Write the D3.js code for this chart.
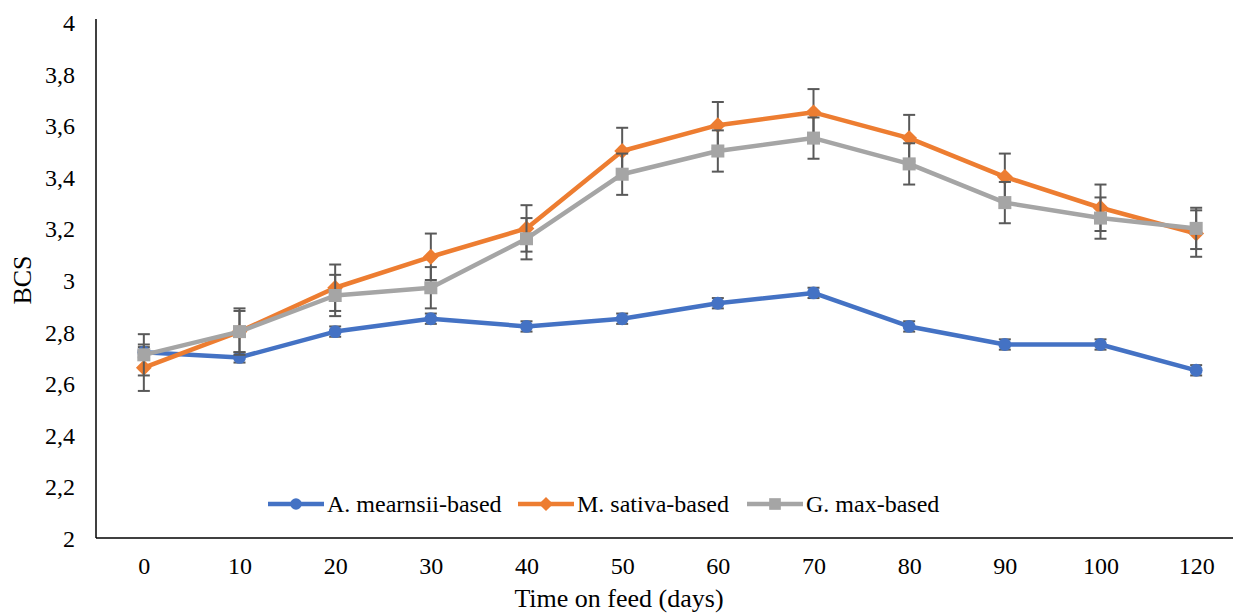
<!DOCTYPE html>
<html>
<head>
<meta charset="utf-8">
<title>BCS over time on feed</title>
<script src="https://d3js.org/d3.v7.min.js"></script>
<style>
  body { margin: 0; background: #fff; }
  text { font-family: "Liberation Serif", "Times New Roman", serif; fill: #000; }
</style>
</head>
<body>
<script>
// data
var days = ["0", "10", "20", "30", "40", "50", "60", "70", "80", "90", "100", "120"];
var mearnsii = [2.72, 2.70, 2.80, 2.85, 2.82, 2.85, 2.91, 2.95, 2.82, 2.75, 2.75, 2.65];
var mearnsiiErr = [0.02, 0.02, 0.02, 0.02, 0.02, 0.02, 0.02, 0.02, 0.02, 0.02, 0.02, 0.02];
var sativa = [2.66, 2.80, 2.97, 3.09, 3.20, 3.50, 3.60, 3.65, 3.55, 3.40, 3.28, 3.18];
var sativaErr = [0.09, 0.09, 0.09, 0.09, 0.09, 0.09, 0.09, 0.09, 0.09, 0.09, 0.09, 0.09];
var gmax = [2.71, 2.80, 2.94, 2.97, 3.16, 3.41, 3.50, 3.55, 3.45, 3.30, 3.24, 3.20];
var gmaxErr = [0.08, 0.08, 0.08, 0.08, 0.08, 0.08, 0.08, 0.08, 0.08, 0.08, 0.08, 0.08];
var yTicks = [2, 2.2, 2.4, 2.6, 2.8, 3, 3.2, 3.4, 3.6, 3.8, 4];

// rot = rotation of the marker, used to turn a square into an even diamond
var series = [
  {name: "A. mearnsii-based", values: mearnsii, err: mearnsiiErr, color: "#4472C4", symbol: d3.symbolCircle, size: 130, rot: 0},
  {name: "M. sativa-based", values: sativa, err: sativaErr, color: "#ED7D31", symbol: d3.symbolSquare, size: 125, rot: 45},
  {name: "G. max-based", values: gmax, err: gmaxErr, color: "#A5A5A5", symbol: d3.symbolSquare, size: 170, rot: 0}
];

var W = 1233, H = 614;
var plotL = 96, plotR = 1244, plotT = 22, plotB = 538;

var svg = d3.select("body").append("svg").attr("width", W).attr("height", H);

var x = d3.scalePoint().domain(days).range([plotL, plotR]).padding(0.5);
var y = d3.scaleLinear().domain([2, 4]).range([plotB, plotT]);

// axes
var yAxis = d3.axisLeft(y).tickValues(yTicks).tickSize(0).tickPadding(21)
  .tickFormat(function(d) { return d3.format(".1~f")(d).replace(".", ","); });
var gy = svg.append("g").attr("transform", "translate(" + plotL + ",0)").call(yAxis);
gy.select(".domain").remove();
gy.selectAll("text").style("font-size", "24px").attr("dy", "0.35em");

var xAxis = d3.axisBottom(x).tickSize(0);
var gx = svg.append("g").attr("transform", "translate(0," + plotB + ")").call(xAxis);
gx.select(".domain").remove();
gx.selectAll("text").style("font-size", "24px").attr("y", 28).attr("dy", "0.35em");

svg.append("line").attr("x1", plotL).attr("x2", plotL).attr("y1", plotT - 3).attr("y2", plotB)
  .attr("stroke", "#000").attr("stroke-width", 1.5);
svg.append("line").attr("x1", plotL).attr("x2", W).attr("y1", plotB).attr("y2", plotB)
  .attr("stroke", "#000").attr("stroke-width", 1.5);

// axis titles
svg.append("text").attr("x", 619).attr("y", 607).attr("text-anchor", "middle")
  .style("font-size", "26px").text("Time on feed (days)");
svg.append("text").attr("transform", "translate(31," + ((plotT + plotB) / 2) + ") rotate(-90)")
  .attr("text-anchor", "middle").style("font-size", "26px").text("BCS");

var line = d3.line().x(function(d, i) { return x(days[i]); }).y(function(d) { return y(d); });

series.forEach(function(s) {
  var g = svg.append("g");
  g.append("path").datum(s.values).attr("d", line)
    .attr("fill", "none").attr("stroke", s.color).attr("stroke-width", 4.5)
    .attr("stroke-linejoin", "round");

  var eb = g.selectAll(".eb").data(s.values).enter().append("g");
  eb.append("line")
    .attr("x1", function(d, i) { return x(days[i]); })
    .attr("x2", function(d, i) { return x(days[i]); })
    .attr("y1", function(d, i) { return y(d - s.err[i]); })
    .attr("y2", function(d, i) { return y(d + s.err[i]); })
    .attr("stroke", "#595959").attr("stroke-width", 2);
  [1, -1].forEach(function(sign) {
    eb.append("line")
      .attr("x1", function(d, i) { return x(days[i]) - 6; })
      .attr("x2", function(d, i) { return x(days[i]) + 6; })
      .attr("y1", function(d, i) { return y(d + sign * s.err[i]); })
      .attr("y2", function(d, i) { return y(d + sign * s.err[i]); })
      .attr("stroke", "#595959").attr("stroke-width", 2);
  });

  g.selectAll(".pt").data(s.values).enter().append("path")
    .attr("d", d3.symbol().type(s.symbol).size(s.size))
    .attr("transform", function(d, i) {
      return "translate(" + x(days[i]) + "," + y(d) + ") rotate(" + s.rot + ")";
    })
    .attr("fill", s.color);
});

// legend
var legendX = [268, 518, 747];
var leg = svg.append("g");
series.forEach(function(s, i) {
  var lg = leg.append("g").attr("transform", "translate(" + legendX[i] + ",504)");
  lg.append("line").attr("x1", 0).attr("x2", 56).attr("y1", 0).attr("y2", 0)
    .attr("stroke", s.color).attr("stroke-width", 4.5);
  lg.append("path").attr("d", d3.symbol().type(s.symbol).size(s.size * 0.8))
    .attr("transform", "translate(28,0) rotate(" + s.rot + ")")
    .attr("fill", s.color);
  lg.append("text").attr("x", 59).attr("y", 0).attr("dy", "0.35em").style("font-size", "24px").text(s.name);
});
</script>
</body>
</html>
